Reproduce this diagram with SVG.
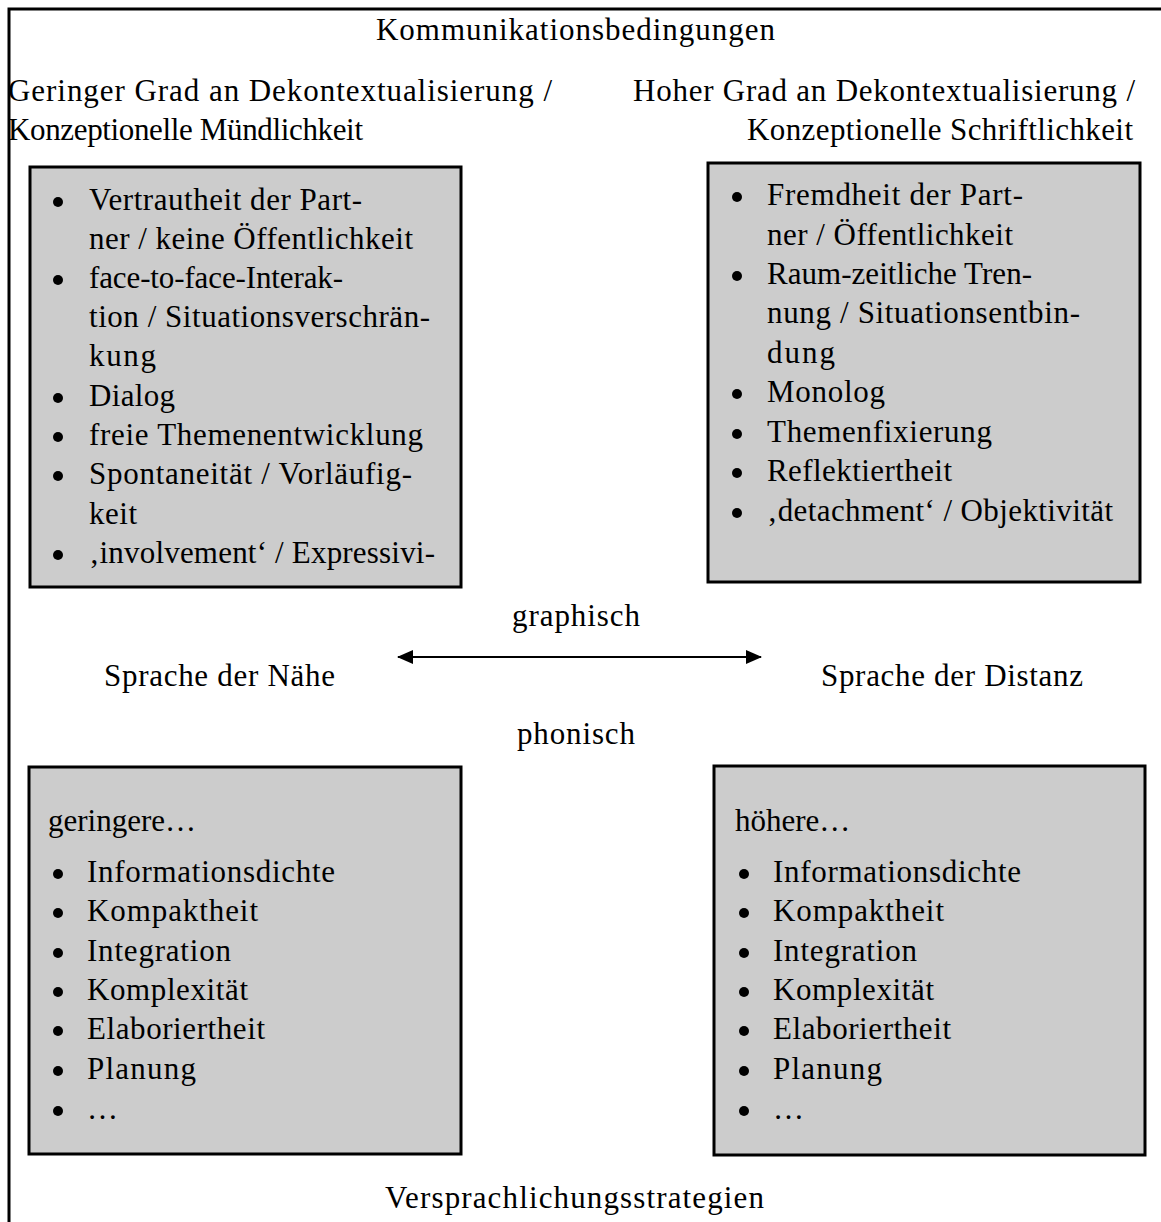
<svg xmlns="http://www.w3.org/2000/svg" width="1161" height="1222" viewBox="0 0 1161 1222">
<style>
  text { font-family: "Liberation Serif", "Times New Roman", serif; font-size: 31px; fill: #000; }
  .box { fill: #cccccc; stroke: #000; stroke-width: 3; }
  .frame { fill: none; stroke: #000; stroke-width: 3; }
  .conn { stroke: #000; stroke-width: 2; fill: none; }
  .dot { fill: #000; }
</style>
<defs>
  <marker id="ahs" viewBox="0 0 16 14" refX="15" refY="7" markerWidth="16" markerHeight="14" markerUnits="userSpaceOnUse" orient="auto-start-reverse">
    <path d="M0,0 L16,7 L0,14 z" fill="#000"/>
  </marker>
</defs>

<g id="frame">
  <path class="frame" d="M9,1222 L9,9 L1161,9"/>
</g>

<g id="headers">
  <text x="376" y="40" textLength="399">Kommunikationsbedingungen</text>
  <text x="8" y="101" textLength="544">Geringer Grad an Dekontextualisierung /</text>
  <text x="8" y="140" textLength="355">Konzeptionelle Mündlichkeit</text>
  <text x="633" y="101" textLength="502">Hoher Grad an Dekontextualisierung /</text>
  <text x="747" y="140" textLength="386">Konzeptionelle Schriftlichkeit</text>
</g>

<g id="box-naehe-bedingungen">
  <rect class="box" x="30" y="167" width="431" height="420"/>
  <circle class="dot" cx="58" cy="202" r="5"/><text x="89" y="210" textLength="273">Vertrautheit der Part-</text>
  <text x="89" y="249" textLength="324">ner / keine Öffentlichkeit</text>
  <circle class="dot" cx="58" cy="280" r="5"/><text x="89" y="288" textLength="254">face-to-face-Interak-</text>
  <text x="89" y="327" textLength="341">tion / Situationsverschrän-</text>
  <text x="89" y="366" textLength="67">kung</text>
  <circle class="dot" cx="58" cy="398" r="5"/><text x="89" y="406" textLength="86">Dialog</text>
  <circle class="dot" cx="58" cy="437" r="5"/><text x="89" y="445" textLength="334">freie Themenentwicklung</text>
  <circle class="dot" cx="58" cy="476" r="5"/><text x="89" y="484" textLength="323">Spontaneität / Vorläufig-</text>
  <text x="89" y="524" textLength="48">keit</text>
  <circle class="dot" cx="58" cy="555" r="5"/><text x="89" y="563" textLength="346">‚involvement‘ / Expressivi-</text>
</g>

<g id="box-distanz-bedingungen">
  <rect class="box" x="708" y="163" width="432" height="419"/>
  <circle class="dot" cx="737" cy="197" r="5"/><text x="767" y="205" textLength="256">Fremdheit der Part-</text>
  <text x="767" y="245" textLength="246">ner / Öffentlichkeit</text>
  <circle class="dot" cx="737" cy="276" r="5"/><text x="767" y="284" textLength="265">Raum-zeitliche Tren-</text>
  <text x="767" y="323" textLength="313">nung / Situationsentbin-</text>
  <text x="767" y="363" textLength="68">dung</text>
  <circle class="dot" cx="737" cy="394" r="5"/><text x="767" y="402" textLength="118">Monolog</text>
  <circle class="dot" cx="737" cy="434" r="5"/><text x="767" y="442" textLength="225">Themenfixierung</text>
  <circle class="dot" cx="737" cy="473" r="5"/><text x="767" y="481" textLength="185">Reflektiertheit</text>
  <circle class="dot" cx="737" cy="513" r="5"/><text x="767" y="521" textLength="346">‚detachment‘ / Objektivität</text>
</g>

<g id="middle-labels">
  <text x="512" y="626" textLength="128">graphisch</text>
  <text x="104" y="686" textLength="231">Sprache der Nähe</text>
  <text x="821" y="686" textLength="262">Sprache der Distanz</text>
  <text x="517" y="744" textLength="118">phonisch</text>
</g>

<g id="connectors">
  <line class="conn" x1="398" y1="657" x2="761" y2="657" marker-start="url(#ahs)" marker-end="url(#ahs)"/>
</g>

<g id="box-naehe-strategien">
  <rect class="box" x="29" y="767" width="432" height="387"/>
  <text x="48" y="831">geringere…</text>
  <circle class="dot" cx="58" cy="874" r="5"/><text x="87" y="882" textLength="248">Informationsdichte</text>
  <circle class="dot" cx="58" cy="913" r="5"/><text x="87" y="921" textLength="171">Kompaktheit</text>
  <circle class="dot" cx="58" cy="953" r="5"/><text x="87" y="961" textLength="144">Integration</text>
  <circle class="dot" cx="58" cy="992" r="5"/><text x="87" y="1000" textLength="161">Komplexität</text>
  <circle class="dot" cx="58" cy="1031" r="5"/><text x="87" y="1039" textLength="178">Elaboriertheit</text>
  <circle class="dot" cx="58" cy="1071" r="5"/><text x="87" y="1079" textLength="109">Planung</text>
  <circle class="dot" cx="58" cy="1111" r="5"/><text x="87" y="1119">…</text>
</g>

<g id="box-distanz-strategien">
  <rect class="box" x="714" y="766" width="431" height="389"/>
  <text x="735" y="831">höhere…</text>
  <circle class="dot" cx="744" cy="874" r="5"/><text x="773" y="882" textLength="248">Informationsdichte</text>
  <circle class="dot" cx="744" cy="913" r="5"/><text x="773" y="921" textLength="171">Kompaktheit</text>
  <circle class="dot" cx="744" cy="953" r="5"/><text x="773" y="961" textLength="144">Integration</text>
  <circle class="dot" cx="744" cy="992" r="5"/><text x="773" y="1000" textLength="161">Komplexität</text>
  <circle class="dot" cx="744" cy="1031" r="5"/><text x="773" y="1039" textLength="178">Elaboriertheit</text>
  <circle class="dot" cx="744" cy="1071" r="5"/><text x="773" y="1079" textLength="109">Planung</text>
  <circle class="dot" cx="744" cy="1111" r="5"/><text x="773" y="1119">…</text>
</g>

<g id="footer">
  <text x="385" y="1208" textLength="379">Versprachlichungsstrategien</text>
</g>
</svg>
